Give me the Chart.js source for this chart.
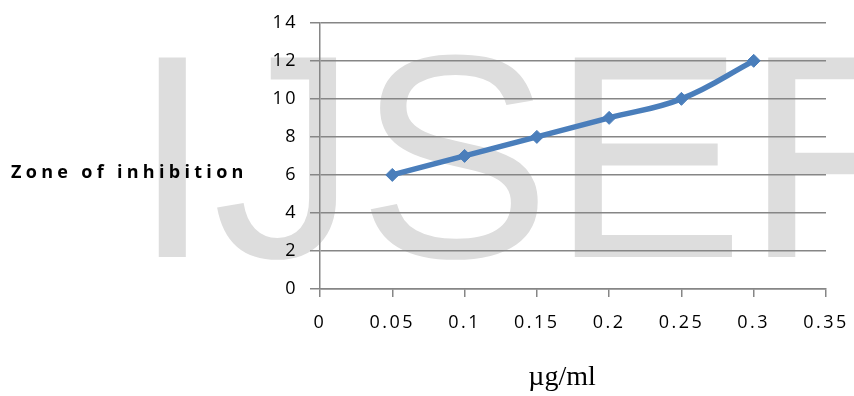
<!DOCTYPE html>
<html>
<head>
<meta charset="utf-8">
<script src="https://cdn.jsdelivr.net/npm/chart.js@4.4.1/dist/chart.umd.min.js"></script>
<style>
  html, body { margin: 0; padding: 0; background: #fff; }
  #wrap { width: 854px; height: 396px; }
</style>
</head>
<body>
<div id="wrap"><canvas id="chart" width="854" height="396"></canvas></div>
<script>
// values
const concentrations = [0.05, 0.1, 0.15, 0.2, 0.25, 0.3];
const zoneOfInhibition = [6, 7, 8, 9, 10, 12];
const xTickLabels = ['0', '0.05', '0.1', '0.15', '0.2', '0.25', '0.3', '0.35'];
const yTickLabels = ['0', '2', '4', '6', '8', '10', '12', '14'];

const yTitle = 'Zone of inhibition';
const xTitle = 'µg/ml';
const watermark = 'IJSER';

const gridColor = '#868686';
const lineColor = '#4a7ebb';
const tickFont = { family: '"Open Sans", sans-serif', size: 18 };

// big grey watermark behind everything, titles drawn on top
const extras = {
  id: 'extras',
  beforeLayout(chart) {
    chart.ctx.letterSpacing = '2.5px';
  },
  beforeDraw(chart) {
    const ctx = chart.ctx;
    ctx.save();
    ctx.letterSpacing = '0px';
    ctx.fillStyle = '#dddddd';
    ctx.font = '290px "Liberation Sans", Arial, sans-serif';
    ctx.textBaseline = 'alphabetic';
    ctx.textAlign = 'left';
    ctx.fillText(watermark, 132, 257);
    ctx.restore();
    ctx.letterSpacing = '2.5px';
  },
  afterDraw(chart) {
    const ctx = chart.ctx;
    ctx.save();
    ctx.fillStyle = '#000';
    ctx.textBaseline = 'middle';
    ctx.textAlign = 'left';
    ctx.letterSpacing = '4.3px';
    ctx.font = 'bold 18px "Open Sans", sans-serif';
    ctx.fillText(yTitle, 11, 173);

    ctx.letterSpacing = '0px';
    ctx.textAlign = 'center';
    ctx.textBaseline = 'alphabetic';
    ctx.font = '28px "Liberation Serif", "Times New Roman", serif';
    ctx.fillText(xTitle, 562, 385);
    ctx.restore();
  }
};

new Chart(document.getElementById('chart'), {
  type: 'line',
  data: {
    datasets: [{
      data: concentrations.map((x, i) => ({ x: x, y: zoneOfInhibition[i] })),
      borderColor: lineColor,
      backgroundColor: lineColor,
      borderWidth: 5.5,
      tension: 0.4,
      fill: false,
      pointStyle: 'rectRot',
      pointRadius: 6.5,
      pointBorderWidth: 1,
      pointBorderColor: lineColor
    }]
  },
  plugins: [extras],
  options: {
    responsive: false,
    animation: false,
    layout: { padding: { top: 21, right: 28, left: 0, bottom: 0 } },
    plugins: { legend: { display: false }, tooltip: { enabled: false } },
    scales: {
      x: {
        type: 'linear',
        min: 0,
        max: 0.35,
        afterFit: (scale) => {
          scale.height = 107;
          scale.paddingLeft = 0;
          scale.paddingRight = 0;
        },
        afterBuildTicks: (scale) => {
          scale.ticks = xTickLabels.map(t => ({ value: parseFloat(t) }));
        },
        ticks: {
          autoSkip: false,
          maxRotation: 0,
          padding: 15,
          color: '#000',
          font: tickFont,
          callback: (v, i) => xTickLabels[i]
        },
        grid: { drawOnChartArea: false, drawTicks: true, tickLength: 8, color: gridColor, lineWidth: 1.5 },
        border: { display: true, color: gridColor, width: 1.5 }
      },
      y: {
        min: 0,
        max: 14,
        afterFit: (scale) => { scale.width = 320; },
        afterBuildTicks: (scale) => {
          scale.ticks = yTickLabels.map(t => ({ value: parseFloat(t) }));
        },
        ticks: {
          padding: 12,
          color: '#000',
          font: tickFont,
          callback: (v, i) => yTickLabels[i]
        },
        grid: { color: gridColor, lineWidth: 1.5, tickLength: 10 },
        border: { display: true, color: gridColor, width: 1.5 }
      }
    }
  }
});
</script>
</body>
</html>
